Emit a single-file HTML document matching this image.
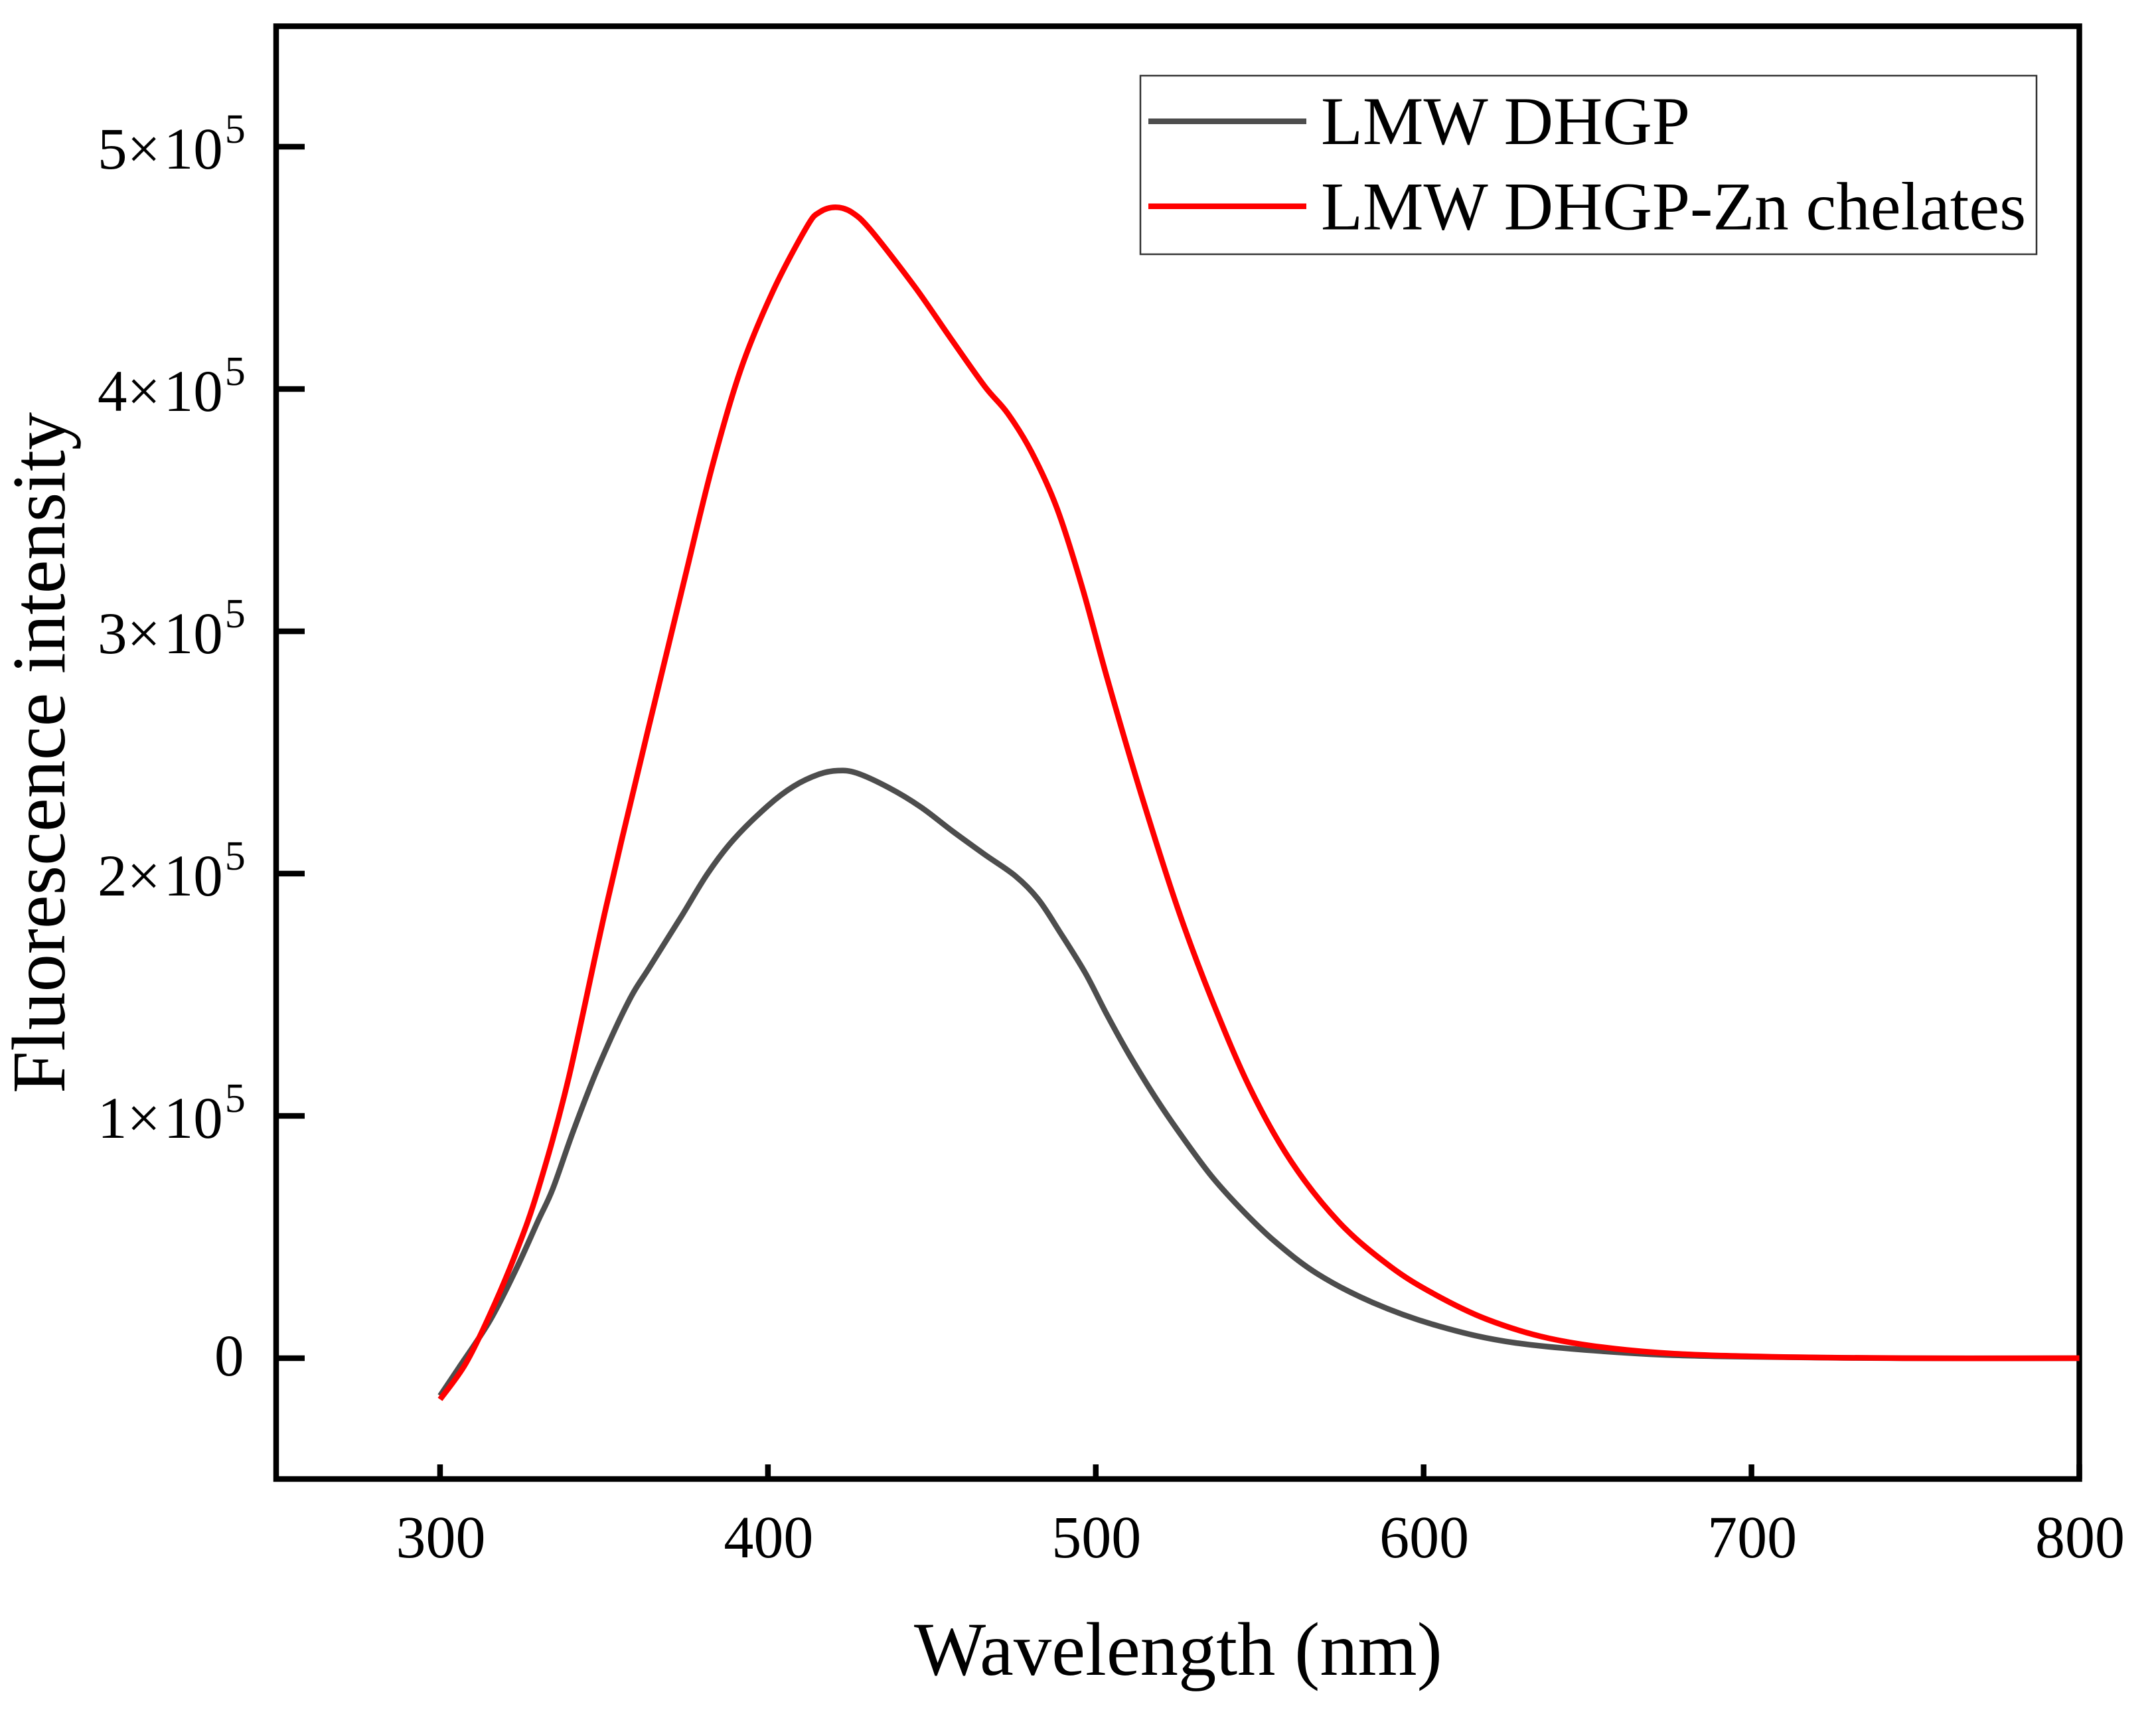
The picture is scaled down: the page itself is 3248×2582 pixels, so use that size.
<!DOCTYPE html>
<html lang="en">
<head>
<meta charset="utf-8">
<title>Fluorescence intensity chart</title>
<style>
html,body{margin:0;padding:0;background:#fff;}
svg{display:block;}
text{font-family:"Liberation Serif",serif;fill:#000;}
</style>
</head>
<body>
<svg id="chart" xmlns="http://www.w3.org/2000/svg" width="3248" height="2582" viewBox="0 0 3248 2582">
  <rect x="0" y="0" width="3248" height="2582" fill="#ffffff"/>
  <rect x="416" y="39.5" width="2716.5" height="2188.5" fill="none" stroke="#000" stroke-width="8.5"/>
  <g id="ticks"></g>
  <g id="series"></g>
  <text x="1377" y="2523" font-size="114.6">Wavelength (nm)</text>
  <text transform="translate(97,1647) rotate(-90)" font-size="114.4">Fluorescence intensity</text>
  <g>
    <rect x="1718" y="114" width="1350" height="269" fill="#fff" stroke="#333" stroke-width="2.5"/>
    <line x1="1730" x2="1968" y1="182.7" y2="182.7" stroke="#4d4d4d" stroke-width="8.5"/>
    <text x="1990" y="217" font-size="103">LMW DHGP</text>
    <line x1="1730" x2="1968" y1="310.7" y2="310.7" stroke="#ff0000" stroke-width="8.5"/>
    <text x="1990" y="345.5" font-size="103">LMW DHGP-Zn chelates</text>
  </g>
</svg>
<script>
// Chart data (wavelength in nm, intensity in thousands of counts)
var xTickValues = [300, 400, 500, 600, 700, 800];
var xTickLabels = ['300', '400', '500', '600', '700', '800'];
var yTickValues = [0, 100, 200, 300, 400, 500];
var yTickMantissas = ['0', '1', '2', '3', '4', '5'];

var dhgpWavelengths = [300,305.7,315.2,323.3,330,334.4,340.7,348.2,357.4,364.2,373.9,381.6,389.5,400,407.8,415.6,421.4,427.1,436.8,446.6,456.3,466,475.5,482.4,489,496.8,503.5,510.3,518,525.8,535.4,545.1,554.8,567.4,584.4,604.7,628.1,662,692.3,746,800];
var dhgpIntensity = [-15.5,-4,15.5,37,57,70,94,120,147,162,183,200,214,228,236,241,242.5,241.5,235.5,227.5,217.5,208,199,189.5,176,159,141.5,125,108,92.5,75,60.5,48,35,23,13.2,6.3,2.2,0.7,0,0];

var chelateWavelengths = [300,307.7,315.2,323.3,330,339.1,350.6,363.2,374.3,383,391.7,401.4,411.9,415.8,420.6,425.5,431.4,444.9,455.7,466.2,473.1,480.4,488.1,495.9,503.6,513.8,524.9,535.4,547.2,559.7,574.3,589.7,603.2,619.4,638.3,662,692.3,746,800];
var chelateIntensity = [-17,-2.5,18,44,70,115,186,258,320,368,408,440,467,473,475,473,465.5,442,421,401,390,374,351,318,280,233,186,148,111,81,56,38,26.5,16,8.2,3.4,1,0,0];

var SVGNS = 'http://www.w3.org/2000/svg';
function xScale(nm) { return 416 + (nm - 250) * (3132.5 - 416) / 550; }
function yScale(k) { return 2046 - k * 3.65; }
function make(tag) { return document.createElementNS(SVGNS, tag); }

function smoothPath(xs, ys) {
  var pts = xs.map(function (x, i) { return [xScale(x), yScale(ys[i])]; });
  var d = 'M' + pts[0][0].toFixed(1) + ' ' + pts[0][1].toFixed(1);
  for (var i = 0; i < pts.length - 1; i++) {
    var p0 = pts[Math.max(0, i - 1)], p1 = pts[i], p2 = pts[i + 1], p3 = pts[Math.min(pts.length - 1, i + 2)];
    var c1x = p1[0] + (p2[0] - p0[0]) / 6, c1y = p1[1] + (p2[1] - p0[1]) / 6;
    var c2x = p2[0] - (p3[0] - p1[0]) / 6, c2y = p2[1] - (p3[1] - p1[1]) / 6;
    d += 'C' + c1x.toFixed(1) + ' ' + c1y.toFixed(1) + ' ' + c2x.toFixed(1) + ' ' + c2y.toFixed(1) + ' ' + p2[0].toFixed(1) + ' ' + p2[1].toFixed(1);
  }
  return d;
}

var ticksGroup = document.getElementById('ticks');
var seriesGroup = document.getElementById('series');

xTickValues.forEach(function (v, i) {
  var px = xScale(v);
  var tick = make('line');
  
  
  tick.setAttribute('x1', px);
  tick.setAttribute('x2', px);
  tick.setAttribute('y1', 2206);
  tick.setAttribute('y2', 2228);
  tick.setAttribute('stroke', '#000');
  tick.setAttribute('stroke-width', 8.5);
  ticksGroup.appendChild(tick);
  var label = make('text');
  
  
  label.setAttribute('x', px + 1);
  label.setAttribute('y', 2346);
  label.setAttribute('font-size', 90);
  label.setAttribute('text-anchor', 'middle');
  label.textContent = xTickLabels[i];
  ticksGroup.appendChild(label);
});

yTickValues.forEach(function (v, i) {
  var py = yScale(v);
  var tick = make('line');
  
  
  tick.setAttribute('x1', 416);
  tick.setAttribute('x2', 459);
  tick.setAttribute('y1', py);
  tick.setAttribute('y2', py);
  tick.setAttribute('stroke', '#000');
  tick.setAttribute('stroke-width', 8.5);
  ticksGroup.appendChild(tick);
  var label = make('text');
  
  
  label.setAttribute('font-size', 89);
  if (v === 0) {
    label.setAttribute('x', 323);
    label.setAttribute('y', py + 26);
    label.textContent = yTickMantissas[i];
  } else {
    label.setAttribute('x', 147);
    label.setAttribute('y', py + 33);
    label.appendChild(document.createTextNode(yTickMantissas[i] + '\u00D7'));
    var ten = make('tspan');
    ten.setAttribute('dx', 5);
    ten.textContent = '10';
    label.appendChild(ten);
    var sup = make('tspan');
    sup.setAttribute('dx', 3);
    sup.setAttribute('dy', -39);
    sup.setAttribute('font-size', 62);
    sup.textContent = '5';
    label.appendChild(sup);
  }
  ticksGroup.appendChild(label);
});

var darkLine = make('path');


darkLine.setAttribute('d', smoothPath(dhgpWavelengths, dhgpIntensity));
darkLine.setAttribute('fill', 'none');
darkLine.setAttribute('stroke', '#4d4d4d');
darkLine.setAttribute('stroke-width', 8.5);
darkLine.setAttribute('stroke-linejoin', 'round');
seriesGroup.appendChild(darkLine);

var redLine = make('path');


redLine.setAttribute('d', smoothPath(chelateWavelengths, chelateIntensity));
redLine.setAttribute('fill', 'none');
redLine.setAttribute('stroke', '#ff0000');
redLine.setAttribute('stroke-width', 8.5);
redLine.setAttribute('stroke-linejoin', 'round');
seriesGroup.appendChild(redLine);
</script>
</body>
</html>
